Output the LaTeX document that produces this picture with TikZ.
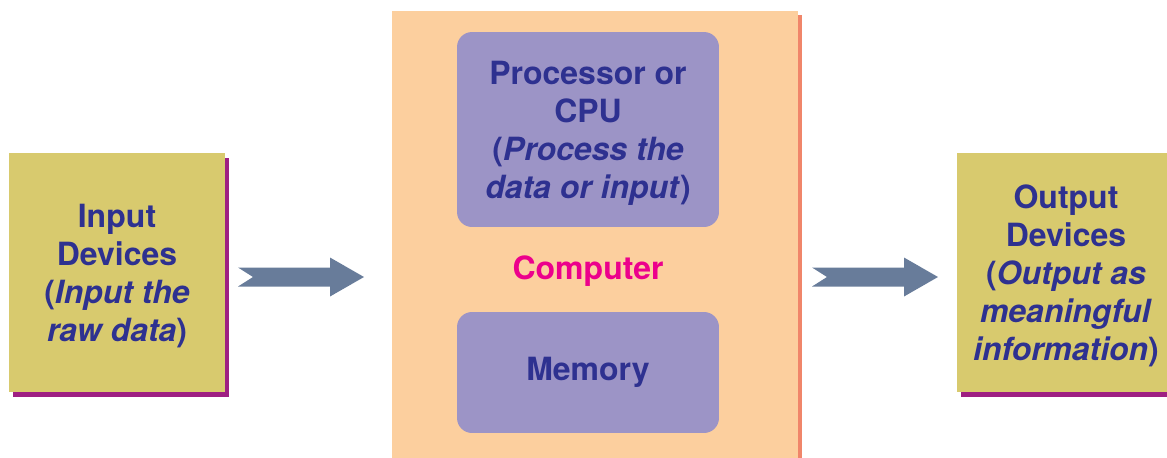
\documentclass[tikz,border=0pt]{standalone}
\usepackage{fontspec}
\setmainfont{TeX Gyre Heros}
\usetikzlibrary{shadows, positioning, calc}
\definecolor{devfill}{HTML}{D8CA6E}
\definecolor{devshadow}{HTML}{9E2082}
\definecolor{compfill}{HTML}{FCCF9E}
\definecolor{compshadow}{HTML}{F0866A}
\definecolor{unitfill}{HTML}{9C94C6}
\definecolor{textblue}{HTML}{2E3190}
\definecolor{compred}{HTML}{EC008C}
\definecolor{arrowcol}{HTML}{687C9A}

\begin{document}
\begin{tikzpicture}[x=0.02cm, y=-0.02cm]
    \tikzstyle{every node}=[inner sep=0pt, align=center, text=textblue, font=\fontsize{18.2}{21.6}\selectfont\bfseries];
    \tikzstyle{devbox}=[fill=devfill, minimum height=4.78cm, text depth=0pt, drop shadow={shadow xshift=0.08cm, shadow yshift=-0.1cm, fill=devshadow, opacity=1}];
    \tikzstyle{unitbox}=[fill=unitfill, rounded corners=0.3cm, minimum width=5.24cm];
    \tikzstyle{fatarrow}=[fill=arrowcol];
    \useasboundingbox (0,0) rectangle (1167,457);
    % devices
    \node[devbox, minimum width=4.32cm] (input) at (117,272.5) {Input\\Devices\\(\textit{Input the}\\\textit{raw data})};
    \node[devbox, minimum width=4.36cm] (output) at (1066,272.5) {Output\\Devices\\(\textit{Output as}\\\textit{meaningful}\\\textit{information})};
    % computer
    \node[fill=compfill, minimum width=8.12cm, minimum height=9cm, drop shadow={shadow xshift=0.08cm, shadow yshift=-0.08cm, fill=compshadow, opacity=1}] (comp) at (595,236) {};
    \node[unitbox, minimum height=3.9cm, text depth=0pt] (cpu) at (588,129.5) {Processor or\\CPU\\(\textit{Process the}\\\textit{data or input})};
    \node[unitbox, minimum height=2.42cm] (mem) at (588,372.5) {Memory};
    \node[text=compred, text depth=0pt] (label) at (588,268) {Computer};
    % arrows
    \coordinate (t1) at (238,277);
    \coordinate (t2) at (812,277);
    \foreach \t in {t1,t2}
        \fill[fatarrow] (\t) ++(0,-9.5) -- ++(92,0) -- ++(0,-10) -- ++(34,19.5) -- ++(-34,19.5) -- ++(0,-10) -- ++(-92,0) -- ++(15,-9.5) -- cycle;
\end{tikzpicture}
\end{document}
